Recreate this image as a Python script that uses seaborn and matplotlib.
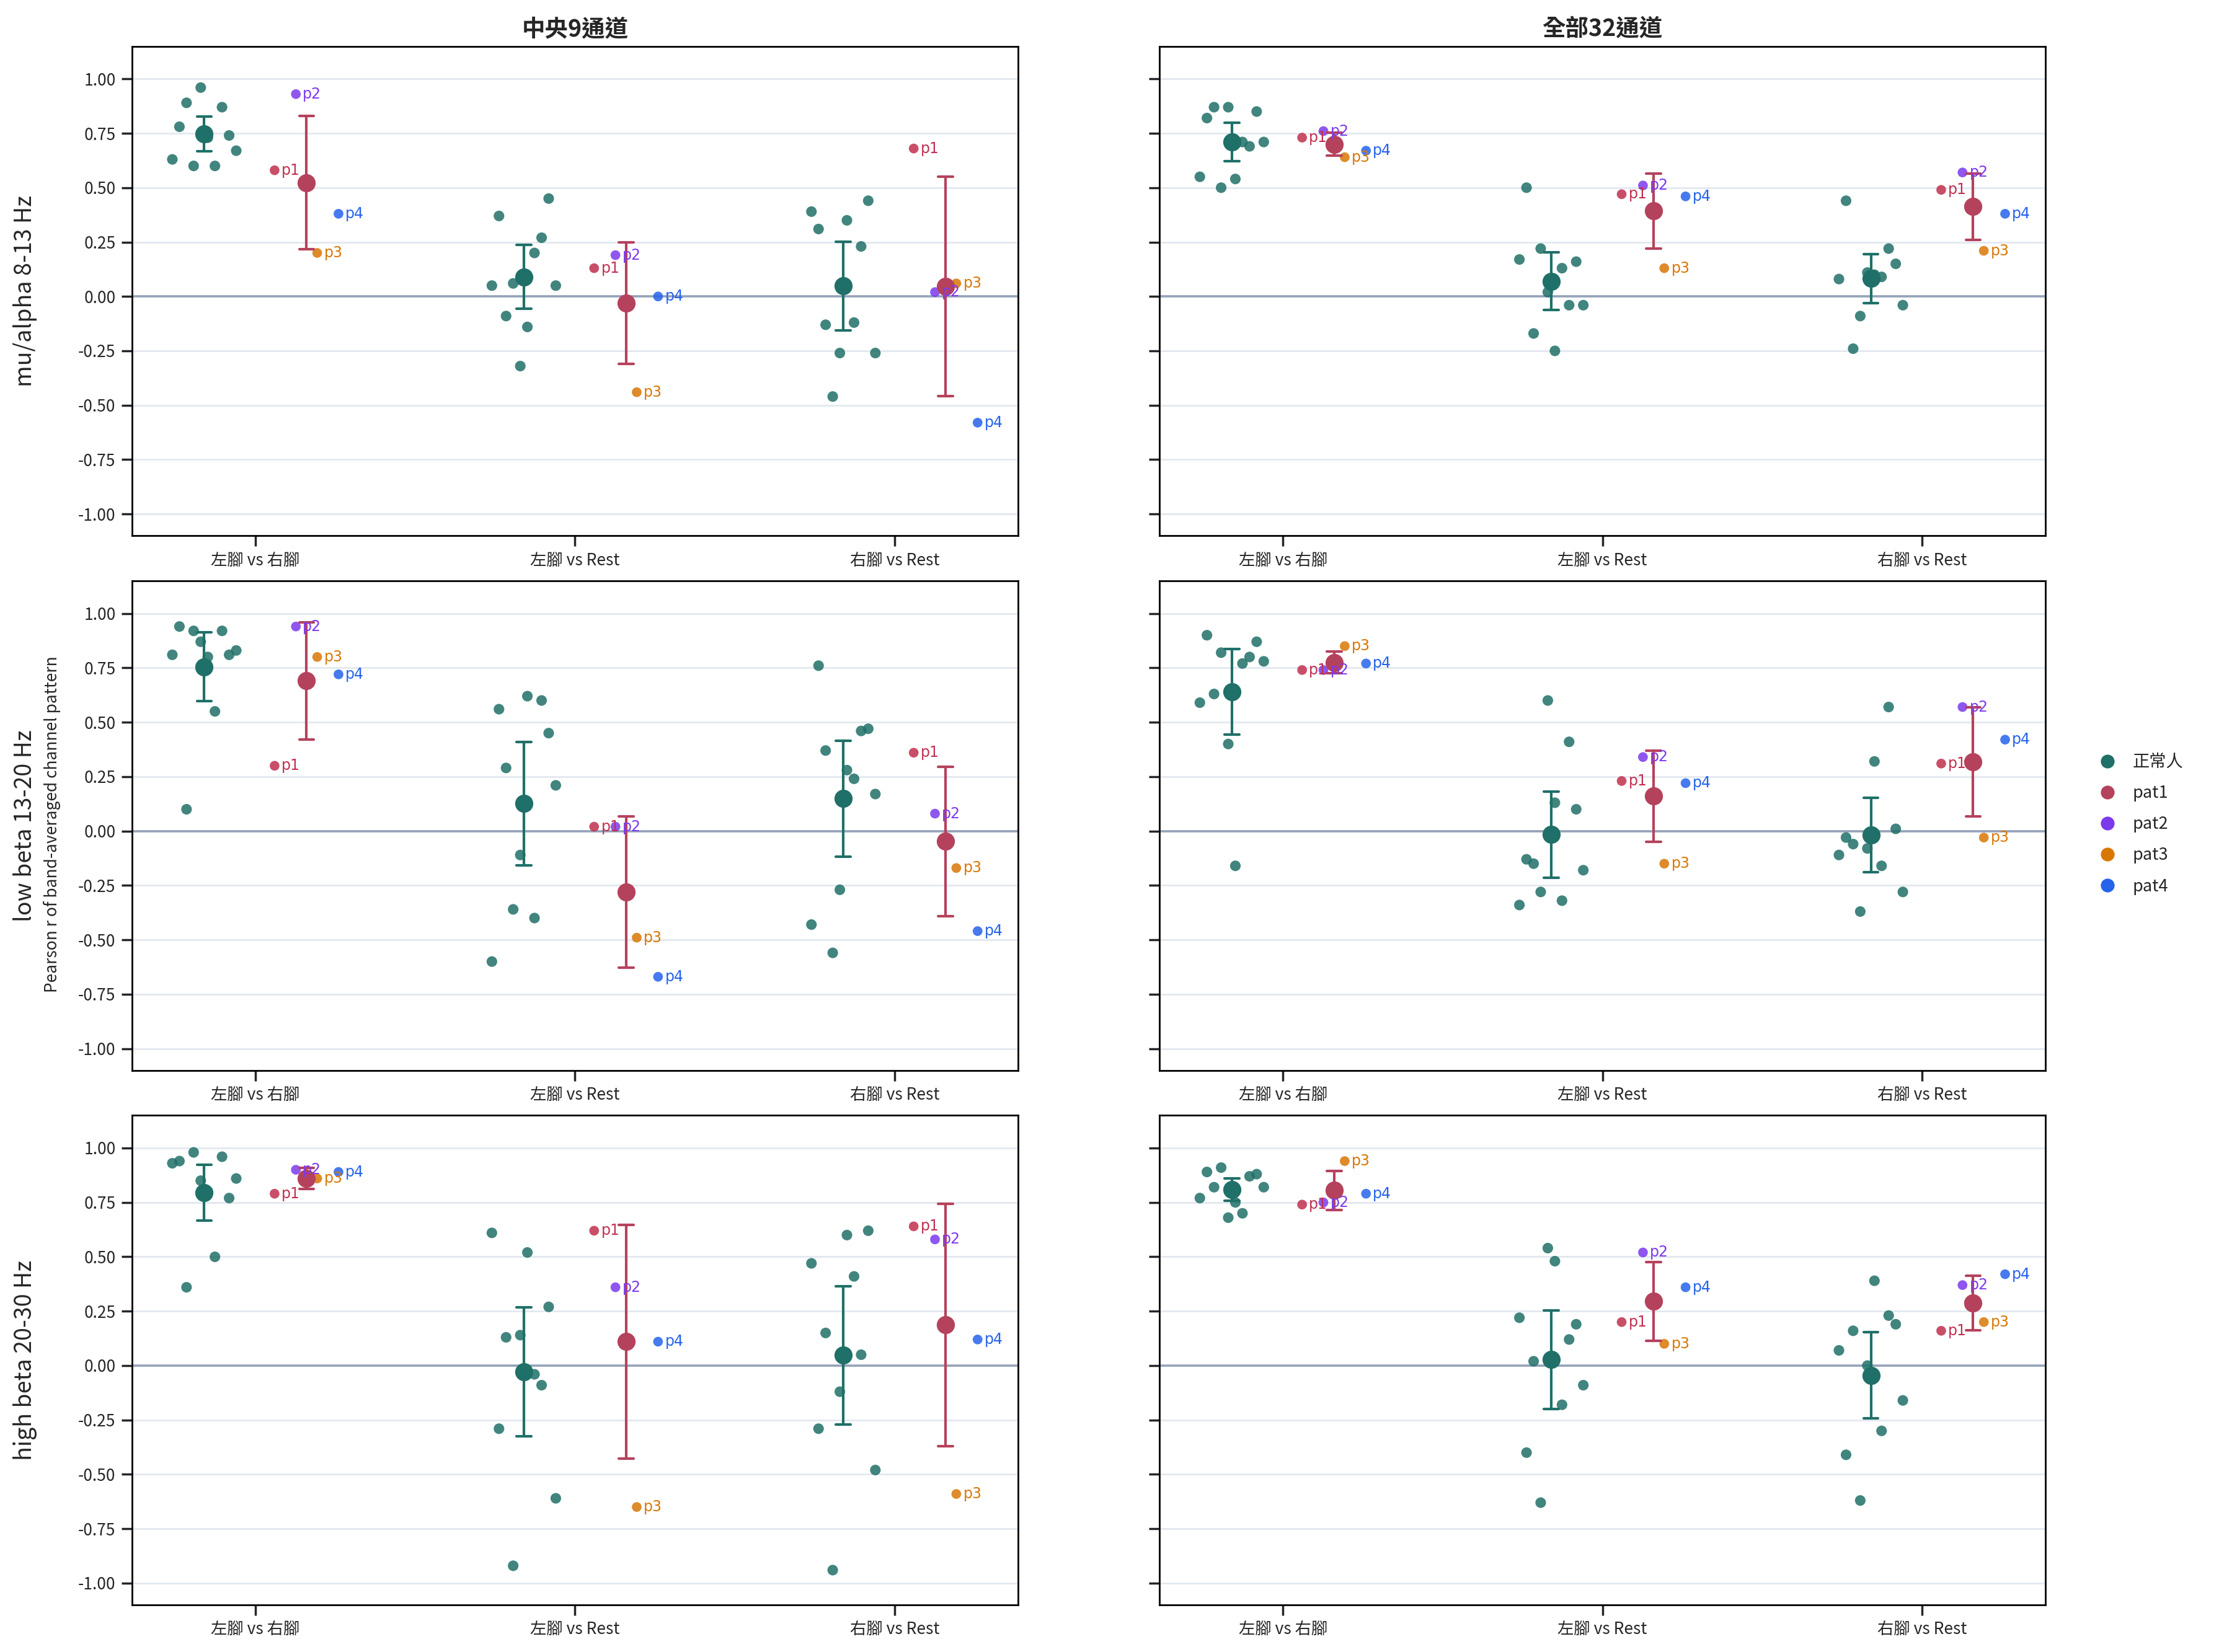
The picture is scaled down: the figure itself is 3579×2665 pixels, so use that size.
import numpy as np
import pandas as pd
import matplotlib
matplotlib.use("Agg")
import matplotlib.pyplot as plt
from matplotlib.lines import Line2D
import seaborn as sns

conditions = ["左腳 vs 右腳", "左腳 vs Rest", "右腳 vs Rest"]
bands = ["mu/alpha 8-13 Hz", "low beta 13-20 Hz", "high beta 20-30 Hz"]
channel_sets = ["中央9通道", "全部32通道"]
patients = ["p1", "p2", "p3", "p4"]

# healthy subjects (10 each), one row per condition
healthy_mu_c9 = [[0.63, 0.78, 0.89, 0.60, 0.96, 0.73, 0.60, 0.87, 0.74, 0.67],
                 [0.05, 0.37, -0.09, 0.06, -0.32, -0.14, 0.20, 0.27, 0.45, 0.05],
                 [0.39, 0.31, -0.13, -0.46, -0.26, 0.35, -0.12, 0.23, 0.44, -0.26]]
healthy_mu_c32 = [[0.55, 0.82, 0.87, 0.50, 0.87, 0.54, 0.71, 0.69, 0.85, 0.71],
                  [0.17, 0.50, -0.17, 0.22, 0.02, -0.25, 0.13, -0.04, 0.16, -0.04],
                  [0.08, 0.44, -0.24, -0.09, 0.11, 0.10, 0.09, 0.22, 0.15, -0.04]]
healthy_lb_c9 = [[0.81, 0.94, 0.10, 0.92, 0.87, 0.80, 0.55, 0.92, 0.81, 0.83],
                 [-0.60, 0.56, 0.29, -0.36, -0.11, 0.62, -0.40, 0.60, 0.45, 0.21],
                 [-0.43, 0.76, 0.37, -0.56, -0.27, 0.28, 0.24, 0.46, 0.47, 0.17]]
healthy_lb_c32 = [[0.59, 0.90, 0.63, 0.82, 0.40, -0.16, 0.77, 0.80, 0.87, 0.78],
                  [-0.34, -0.13, -0.15, -0.28, 0.60, 0.13, -0.32, 0.41, 0.10, -0.18],
                  [-0.11, -0.03, -0.06, -0.37, -0.08, 0.32, -0.16, 0.57, 0.01, -0.28]]
healthy_hb_c9 = [[0.93, 0.94, 0.36, 0.98, 0.85, 0.80, 0.50, 0.96, 0.77, 0.86],
                 [0.61, -0.29, 0.13, -0.92, 0.14, 0.52, -0.04, -0.09, 0.27, -0.61],
                 [0.47, -0.29, 0.15, -0.94, -0.12, 0.60, 0.41, 0.05, 0.62, -0.48]]
healthy_hb_c32 = [[0.77, 0.89, 0.82, 0.91, 0.68, 0.75, 0.70, 0.87, 0.88, 0.82],
                  [0.22, -0.40, 0.02, -0.63, 0.54, 0.48, -0.18, 0.12, 0.19, -0.09],
                  [0.07, -0.41, 0.16, -0.62, 0.00, 0.39, -0.30, 0.23, 0.19, -0.16]]

# patients p1..p4, one row per condition
patients_mu_c9 = [[0.58, 0.93, 0.20, 0.38],
                  [0.13, 0.19, -0.44, 0.00],
                  [0.68, 0.02, 0.06, -0.58]]
patients_mu_c32 = [[0.73, 0.76, 0.64, 0.67],
                   [0.47, 0.51, 0.13, 0.46],
                   [0.49, 0.57, 0.21, 0.38]]
patients_lb_c9 = [[0.30, 0.94, 0.80, 0.72],
                  [0.02, 0.02, -0.49, -0.67],
                  [0.36, 0.08, -0.17, -0.46]]
patients_lb_c32 = [[0.74, 0.74, 0.85, 0.77],
                   [0.23, 0.34, -0.15, 0.22],
                   [0.31, 0.57, -0.03, 0.42]]
patients_hb_c9 = [[0.79, 0.90, 0.86, 0.89],
                  [0.62, 0.36, -0.65, 0.11],
                  [0.64, 0.58, -0.59, 0.12]]
patients_hb_c32 = [[0.74, 0.75, 0.94, 0.79],
                   [0.20, 0.52, 0.10, 0.36],
                   [0.16, 0.37, 0.20, 0.42]]

panels = {
    (0, 0): (healthy_mu_c9, patients_mu_c9), (0, 1): (healthy_mu_c32, patients_mu_c32),
    (1, 0): (healthy_lb_c9, patients_lb_c9), (1, 1): (healthy_lb_c32, patients_lb_c32),
    (2, 0): (healthy_hb_c9, patients_hb_c9), (2, 1): (healthy_hb_c32, patients_hb_c32),
}

healthy_color = "#1f7068"
patient_mean_color = "#b5425d"
pat_colors = {"p1": "#c0304f", "p2": "#7c3aed", "p3": "#d97706", "p4": "#2563eb"}

# build long table
rows = []
for (i, j), (hv, pv) in panels.items():
    for c in range(3):
        for s, r in enumerate(hv[c]):
            rows.append(dict(band=i, chan=j, cond=c, grp="正常人", who=f"h{s}",
                             x=c - 0.26 + s * 0.2 / 9, xm=c - 0.16, r=r))
        for k, r in enumerate(pv[c]):
            rows.append(dict(band=i, chan=j, cond=c, grp="patient", who=patients[k],
                             x=c + 0.06 + k * 0.2 / 3, xm=c + 0.16, r=r))
df = pd.DataFrame(rows)

sns.set_theme(style="ticks")
plt.rcParams["font.family"] = ["Noto Sans CJK TC", "DejaVu Sans"]
plt.rcParams["axes.unicode_minus"] = False

fig, axes = plt.subplots(3, 2, figsize=(17.9, 13.325), dpi=200, sharey=True)
fig.subplots_adjust(left=0.0595, right=0.9215, top=0.972, bottom=0.0285,
                    hspace=0.092, wspace=0.16)

for (i, j), ax in np.ndenumerate(axes):
    d = df[(df.band == i) & (df.chan == j)]
    h = d[d.grp == "正常人"]
    p = d[d.grp == "patient"]

    ax.set_axisbelow(True)
    ax.grid(axis="y", color="#e2e8f0", linewidth=1.0)
    ax.axhline(0, color="#94a3b8", linewidth=1.3, zorder=1)

    sns.scatterplot(data=h, x="x", y="r", color=healthy_color, s=38, alpha=0.85,
                    edgecolor="none", ax=ax, legend=False, zorder=2)
    sns.scatterplot(data=p, x="x", y="r", hue="who", palette=pat_colors, s=32,
                    alpha=0.85, edgecolor="none", ax=ax, legend=False, zorder=2)

    sns.pointplot(data=h, x="xm", y="r", native_scale=True, errorbar=("se", 1.96),
                  color=healthy_color, linestyle="none", marker="o", markersize=8.5,
                  capsize=0.046, err_kws={"linewidth": 1.5}, ax=ax)
    sns.pointplot(data=p, x="xm", y="r", native_scale=True, errorbar=("se", 1.96),
                  color=patient_mean_color, linestyle="none", marker="o", markersize=8.5,
                  capsize=0.046, err_kws={"linewidth": 1.5}, ax=ax)

    for _, row in p.iterrows():
        ax.annotate(row.who, (row.x, row.r), xytext=(4, 0), textcoords="offset points",
                    va="center", ha="left", fontsize=8.5, color=pat_colors[row.who],
                    family="DejaVu Sans")

    ax.set_xlim(-0.386, 2.386)
    ax.set_ylim(-1.1, 1.15)
    ax.set_xticks(range(3))
    ax.set_xticklabels(conditions, fontsize=9.5)
    ax.set_yticks(np.arange(-1, 1.01, 0.25))
    ax.yaxis.set_major_formatter(matplotlib.ticker.FormatStrFormatter("%.2f"))
    ax.tick_params(axis="y", labelsize=9.5)
    ax.set_xlabel("")
    ax.set_ylabel(bands[i], fontsize=13.5)
    ax.yaxis.set_label_coords(-0.107, 0.5)
    for sp in ax.spines.values():
        sp.set_visible(True)
        sp.set_color("black")
        sp.set_linewidth(1.0)
    if i == 0:
        ax.set_title(channel_sets[j], fontsize=13.5, fontweight="bold")

fig.text(0.0236, 0.501, "Pearson r of band-averaged channel pattern", rotation=90,
         va="center", ha="center", fontsize=9.5)

handles = [Line2D([], [], marker="o", linestyle="none", markersize=7, color=healthy_color)]
handles += [Line2D([], [], marker="o", linestyle="none", markersize=7,
                   color=(patient_mean_color if k == "p1" else c)) for k, c in pat_colors.items()]
fig.legend(handles, ["正常人", "pat1", "pat2", "pat3", "pat4"], loc="center left",
           bbox_to_anchor=(0.935, 0.501), frameon=False, fontsize=9.8,
           handletextpad=0.5, labelspacing=0.85)

fig.savefig("out.png", dpi=200)
